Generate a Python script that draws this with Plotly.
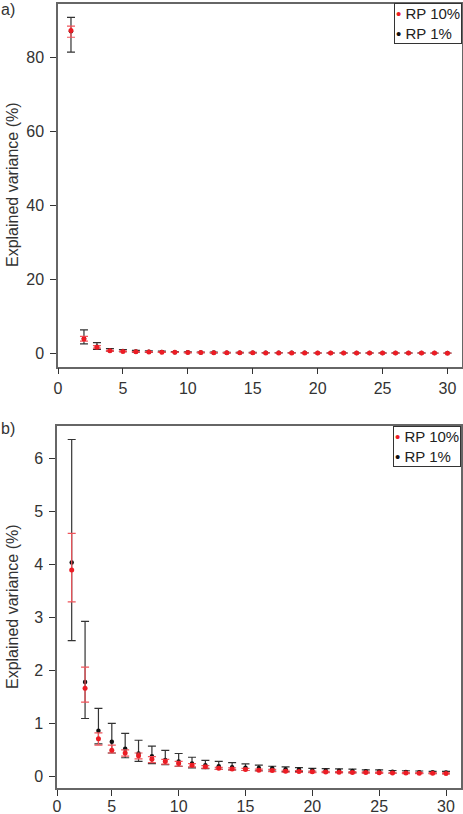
import plotly.graph_objects as go

# ---- data ----
components = list(range(1, 31))

rp1_mean = [87.1, 4.04, 1.79, 0.87, 0.66, 0.53, 0.44, 0.39, 0.32, 0.29, 0.25, 0.22, 0.20, 0.18, 0.17,
            0.165, 0.16, 0.145, 0.14, 0.125, 0.12, 0.115, 0.11, 0.105, 0.10, 0.095, 0.09, 0.088, 0.085, 0.083]
rp1_high = [90.9, 6.36, 2.93, 1.29, 1.01, 0.82, 0.69, 0.58, 0.50, 0.44, 0.37, 0.31, 0.29, 0.27, 0.245,
            0.22, 0.20, 0.19, 0.175, 0.16, 0.155, 0.15, 0.145, 0.13, 0.13, 0.12, 0.115, 0.11, 0.105, 0.105]
rp1_low = [81.5, 2.57, 1.10, 0.62, 0.45, 0.36, 0.29, 0.25, 0.23, 0.20, 0.17, 0.155, 0.14, 0.13, 0.12,
           0.115, 0.11, 0.10, 0.098, 0.09, 0.087, 0.083, 0.08, 0.077, 0.074, 0.071, 0.068, 0.066, 0.064, 0.062]

rp10_mean = [87.3, 3.90, 1.67, 0.72, 0.50, 0.45, 0.40, 0.33, 0.29, 0.25, 0.22, 0.19, 0.16, 0.15, 0.14,
             0.125, 0.12, 0.105, 0.10, 0.094, 0.09, 0.085, 0.083, 0.08, 0.078, 0.075, 0.072, 0.07, 0.068, 0.065]
rp10_high = [88.5, 4.59, 2.07, 0.83, 0.60, 0.51, 0.45, 0.38, 0.33, 0.29, 0.25, 0.21, 0.18, 0.17, 0.16,
             0.145, 0.14, 0.125, 0.12, 0.11, 0.105, 0.10, 0.097, 0.093, 0.09, 0.087, 0.084, 0.081, 0.079, 0.076]
rp10_low = [85.5, 3.30, 1.41, 0.60, 0.45, 0.39, 0.34, 0.27, 0.24, 0.20, 0.19, 0.165, 0.14, 0.13, 0.12,
            0.11, 0.10, 0.09, 0.085, 0.08, 0.077, 0.073, 0.07, 0.068, 0.066, 0.063, 0.061, 0.059, 0.057, 0.055]

series_names = ["RP 10%", "RP 1%"]
panel_labels = ["a)", "b)"]
y_title = "Explained variance (%)"
xa_ticks = [0, 5, 10, 15, 20, 25, 30]
ya_ticks = [0, 20, 40, 60, 80]
yb_ticks = [0, 1, 2, 3, 4, 5, 6]

FONT = "Liberation Sans, Arial, Helvetica, sans-serif"
RED = "#ec1c24"
RED_BAR = "#f0545b"
BLACK = "#111111"
BLACK_BAR = "#333333"
TXT = "#333333"

fig = go.Figure()


def add_pair(start, xaxis, yaxis):
    xs = components[start:]
    # RP 1% (black) first so the red is drawn on top
    fig.add_trace(go.Scatter(
        x=xs, y=rp1_mean[start:], mode="markers", name=series_names[1],
        xaxis=xaxis, yaxis=yaxis,
        marker=dict(color=BLACK, size=4.5),
        error_y=dict(type="data", symmetric=False,
                     array=[h - m for h, m in zip(rp1_high[start:], rp1_mean[start:])],
                     arrayminus=[m - l for m, l in zip(rp1_mean[start:], rp1_low[start:])],
                     color=BLACK_BAR, thickness=1.2, width=4),
    ))
    fig.add_trace(go.Scatter(
        x=xs, y=rp10_mean[start:], mode="markers", name=series_names[0],
        xaxis=xaxis, yaxis=yaxis,
        marker=dict(color=RED, size=5),
        error_y=dict(type="data", symmetric=False,
                     array=[h - m for h, m in zip(rp10_high[start:], rp10_mean[start:])],
                     arrayminus=[m - l for m, l in zip(rp10_mean[start:], rp10_low[start:])],
                     color=RED_BAR, thickness=1.2, width=4),
    ))


add_pair(0, "x", "y")
add_pair(1, "x2", "y2")

L, R, T, B = 57, 1, 4, 26
W, H = 463, 814
PW, PH = W - L - R, H - T - B

axis_common = dict(
    showline=True, linecolor="#666666", linewidth=1.5, mirror=True,
    ticks="outside", ticklen=6, tickcolor="#333333", tickwidth=1,
    showgrid=False, zeroline=False, automargin=False,
    tickfont=dict(family=FONT, size=16, color=TXT),
)

fig.update_layout(
    width=W, height=H, autosize=False,
    margin=dict(l=L, r=R, t=T, b=B),
    paper_bgcolor="white", plot_bgcolor="white",
    font=dict(family=FONT, size=16, color=TXT),
    showlegend=False,
    xaxis=dict(domain=[1 / PW, 1.0], anchor="y", range=[0, 31.12],
               tickvals=xa_ticks, **axis_common),
    yaxis=dict(domain=[0.5374, 1.0], anchor="x", range=[-3.6, 94.5],
               tickvals=ya_ticks, ticklabelstandoff=3, **axis_common),
    xaxis2=dict(domain=[0.0, 0.9968], anchor="y2", range=[0.9, 31.1],
                tickvals=[0.9] + xa_ticks[1:], ticktext=[str(t) for t in xa_ticks],
                ticklabelstandoff=-3, **axis_common),
    yaxis2=dict(domain=[0.0, 0.4621], anchor="x2", range=[-0.21, 6.62],
                tickvals=yb_ticks, ticklabelstandoff=3, **axis_common),
)


def px_x(px):
    return (px - L) / PW


def px_y(py):
    return 1 - (py - T) / PH


legend_text = "<br>".join(
    f"<span style='color:{c}'>\u2022</span> {n}" for c, n in zip([RED, BLACK], series_names)
)

annotations = [
    dict(text=panel_labels[0], x=px_x(0), y=px_y(0), xanchor="left", yanchor="top", borderpad=0),
    dict(text=panel_labels[1], x=px_x(0), y=px_y(419), xanchor="left", yanchor="top", borderpad=0),
    dict(text=y_title, x=px_x(12), y=px_y(185), xanchor="center", yanchor="middle", textangle=-90, borderpad=0),
    dict(text=y_title, x=px_x(12), y=px_y(607), xanchor="center", yanchor="middle", textangle=-90, borderpad=0),
    dict(text=legend_text, x=px_x(461.5), y=px_y(3.5), xanchor="right", yanchor="top", align="left",
         bgcolor="white", bordercolor="#333333", borderwidth=1, borderpad=1,
         font=dict(family=FONT, size=15, color="#222222")),
    dict(text=legend_text, x=px_x(461), y=px_y(425.5), xanchor="right", yanchor="top", align="left",
         bgcolor="white", bordercolor="#333333", borderwidth=1, borderpad=1,
         font=dict(family=FONT, size=15, color="#222222")),
]
for a in annotations:
    a.setdefault("font", dict(family=FONT, size=16, color=TXT))
    fig.add_annotation(xref="paper", yref="paper", showarrow=False, **a)

fig.write_html("out.html",
               config={"displayModeBar": False},
               post_script="document.body.style.margin='0';document.body.style.overflow='hidden';")
